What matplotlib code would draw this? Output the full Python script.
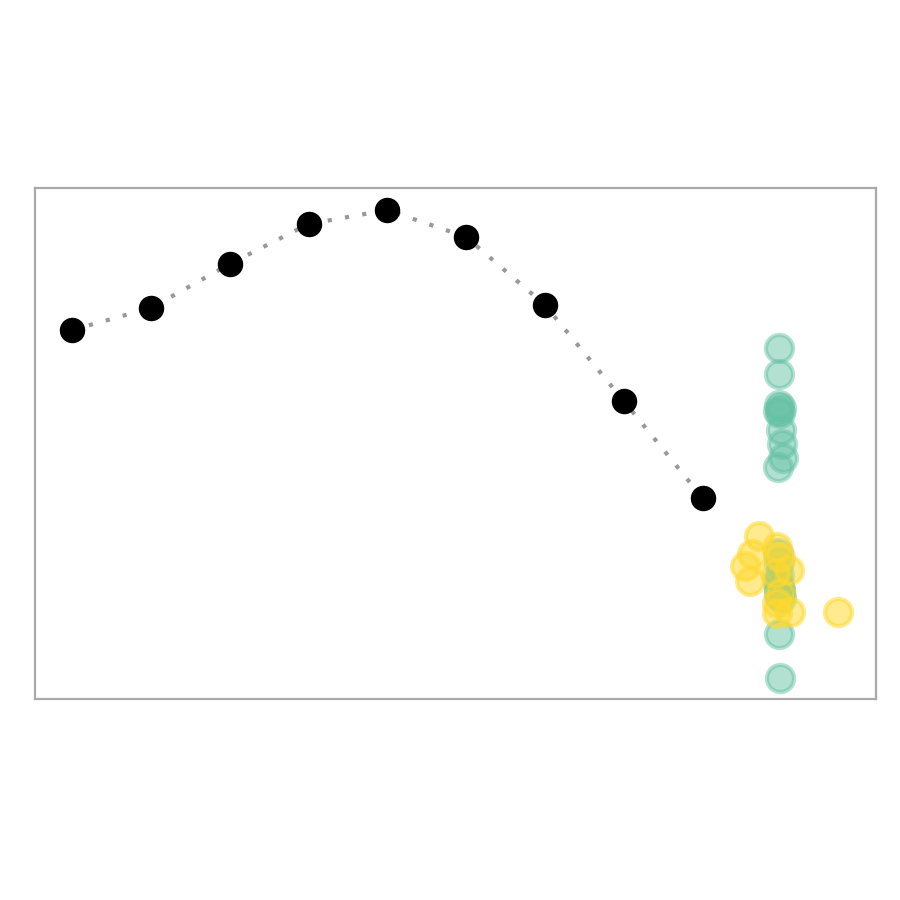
import matplotlib.pyplot as plt
import numpy as np

# mean trend (black dots joined by a dotted line)
trend_x = [0, 1, 2, 3, 4, 5, 6, 7, 8]
trend_y = [37.0, 39.2, 43.6, 47.6, 49.0, 46.3, 39.5, 29.9, 20.2]

# green observations
green_x = [8.97, 8.97, 8.97, 8.99, 8.96, 8.98, 8.99, 9.01, 9.02, 8.96,
           8.96, 8.97, 8.97, 8.96, 8.98, 8.97, 8.99, 8.97, 8.98, 8.97, 8.98]
green_y = [35.2, 32.6, 29.5, 29.2, 28.9, 28.7, 27.0, 25.6, 24.2, 23.3,
           14.7, 13.8, 12.5, 11.7, 11.0, 10.5, 10.2, 11.3, 10.8, 6.6, 2.2]

# yellow observations
yellow_x = [8.71, 8.63, 8.54, 8.60, 8.95, 8.98, 9.09, 8.92, 8.98, 8.95,
            8.95, 9.11, 9.72]
yellow_y = [16.4, 14.6, 13.4, 11.9, 15.3, 14.3, 13.0, 12.7, 10.7, 9.7,
            8.7, 8.8, 8.8]

fig = plt.figure(figsize=(9, 9), dpi=100)
ax = fig.add_axes([35 / 900, 1 - 699 / 900, 841 / 900, 511 / 900])

ax.plot(trend_x, trend_y, color='#999999', linestyle=(0, (1, 3.2)),
        linewidth=3, zorder=1)
ax.scatter(trend_x, trend_y, s=300, color='black', zorder=3)

ax.scatter(green_x, green_y, s=380, facecolor='#66c2a5', edgecolor='#66c2a5',
           linewidth=3, alpha=0.5, zorder=2)
ax.scatter(yellow_x, yellow_y, s=380, facecolor='#ffd92f', edgecolor='#ffd92f',
           linewidth=3, alpha=0.55, zorder=2)

ax.set_xlim(-0.47, 10.2)
ax.set_ylim(0.1, 51.2)
ax.set_xticks([])
ax.set_yticks([])
for sp in ax.spines.values():
    sp.set_color('#aaaaaa')
    sp.set_linewidth(1.6)

fig.savefig('out.png', dpi=100)
